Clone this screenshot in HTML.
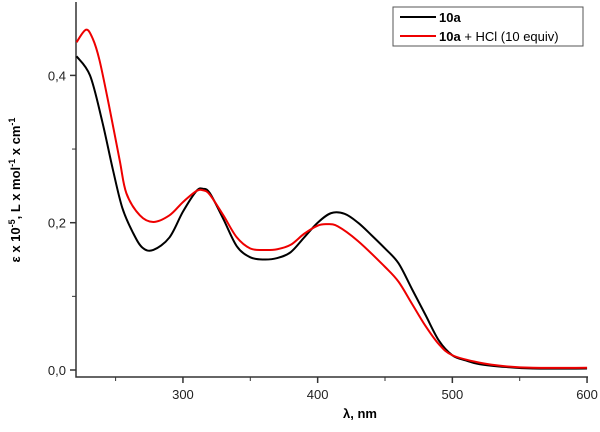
<!DOCTYPE html>
<html><head><meta charset="utf-8"><style>
body{margin:0;background:#fff;}
svg text{font-family:"Liberation Sans",Arial,sans-serif;}
</style></head><body>
<svg id="chart" width="600" height="427" xmlns="http://www.w3.org/2000/svg">
<g id="axes"></g>
<g id="series"></g>
<g>
<rect x="393" y="7" width="190" height="39" fill="#fff" stroke="#555" stroke-width="1"/>
<line x1="400" y1="17" x2="436" y2="17" stroke="#000" stroke-width="2"/>
<text x="439" y="22" font-size="13" font-weight="bold">10a</text>
<line x1="400" y1="36" x2="436" y2="36" stroke="#e00" stroke-width="2"/>
<text x="439" y="41" font-size="13"><tspan font-weight="bold">10a</tspan> + HCl (10 equiv)</text>
</g>
<text x="360" y="418" font-size="13" font-weight="bold" text-anchor="middle">λ, nm</text>
<text transform="translate(20,190) rotate(-90)" font-size="13" font-weight="bold" text-anchor="middle">ε x 10<tspan dy="-5" font-size="9">-5</tspan><tspan dy="5">, L x mol</tspan><tspan dy="-5" font-size="9">-1</tspan><tspan dy="5"> x cm</tspan><tspan dy="-5" font-size="9">-1</tspan></text>
</svg>
<script>
const blackX=[221,231,240,248,255,263,270,278,290,300,310,315,320,330,340,350,360,370,380,390,400,410,420,430,440,450,460,470,480,490,500,510,520,540,560,600];
const blackY=[0.426,0.40,0.338,0.272,0.22,0.186,0.166,0.163,0.18,0.215,0.243,0.246,0.24,0.205,0.168,0.153,0.15,0.152,0.16,0.18,0.2,0.213,0.212,0.2,0.183,0.165,0.145,0.11,0.075,0.04,0.02,0.013,0.008,0.004,0.002,0.002];
const redX=[221,228,233,238,245,253,258,268,278,290,300,310,315,320,330,340,350,360,370,380,390,400,407,415,430,450,460,470,480,490,500,520,540,560,600];
const redY=[0.445,0.462,0.45,0.421,0.36,0.285,0.24,0.21,0.201,0.21,0.228,0.243,0.244,0.238,0.21,0.18,0.165,0.163,0.164,0.17,0.185,0.196,0.198,0.195,0.175,0.14,0.12,0.09,0.06,0.035,0.02,0.01,0.005,0.003,0.003];
const xTicks=[300,400,500,600];
const xMinor=[250,350,450,550];
const yTicks=[0,0.2,0.4];
const yTickLabels=["0,0","0,2","0,4"];
const yMinor=[0.1,0.3];
const NS="http://www.w3.org/2000/svg";
const X=v=>76+(v-220.6)*1.347;
const Y=v=>370-v*736.5;
const axes=document.getElementById('axes'),series=document.getElementById('series');
function mk(tag,attrs,parent){const e=document.createElementNS(NS,tag);for(const k in attrs)e.setAttribute(k,attrs[k]);parent.appendChild(e);return e;}
let a=mk('path',{d:'M76,2 V377 H588',fill:'none',stroke:'#333','stroke-width':1.5},axes);


xTicks.forEach(t=>{const l=mk('line',{x1:X(t),x2:X(t),y1:377,y2:383,stroke:'#333','stroke-width':1.5},axes);


const tx=mk('text',{x:X(t),y:399,'font-size':13,'text-anchor':'middle',fill:'#222'},axes);tx.textContent=t;

});
xMinor.forEach(t=>{const l=mk('line',{x1:X(t),x2:X(t),y1:377,y2:381,stroke:'#333','stroke-width':1},axes);

});
yTicks.forEach((t,i)=>{const l=mk('line',{x1:70,x2:76,y1:Y(t),y2:Y(t),stroke:'#333','stroke-width':1.5},axes);


const tx=mk('text',{x:66,y:Y(t)+5,'font-size':13,'text-anchor':'end',fill:'#222'},axes);tx.textContent=yTickLabels[i];

});
yMinor.forEach(t=>{const l=mk('line',{x1:72,x2:76,y1:Y(t),y2:Y(t),stroke:'#333','stroke-width':1},axes);

});
function line(xs,ys,color,name){
 let pts=xs.map((x,i)=>[X(x),Y(ys[i])]);
 let d='M'+pts[0][0]+','+pts[0][1];
 for(let i=0;i<pts.length-1;i++){const p0=pts[Math.max(0,i-1)],p1=pts[i],p2=pts[i+1],p3=pts[Math.min(pts.length-1,i+2)];
  d+=` C${p1[0]+(p2[0]-p0[0])/6},${p1[1]+(p2[1]-p0[1])/6} ${p2[0]-(p3[0]-p1[0])/6},${p2[1]-(p3[1]-p1[1])/6} ${p2[0]},${p2[1]}`;}
 const p=mk('path',{d:d,fill:'none',stroke:color,'stroke-width':2},series);
 
 
}
line(blackX,blackY,'#000','series-10a');
line(redX,redY,'#e00','series-10a-hcl');
</script>
</body></html>
